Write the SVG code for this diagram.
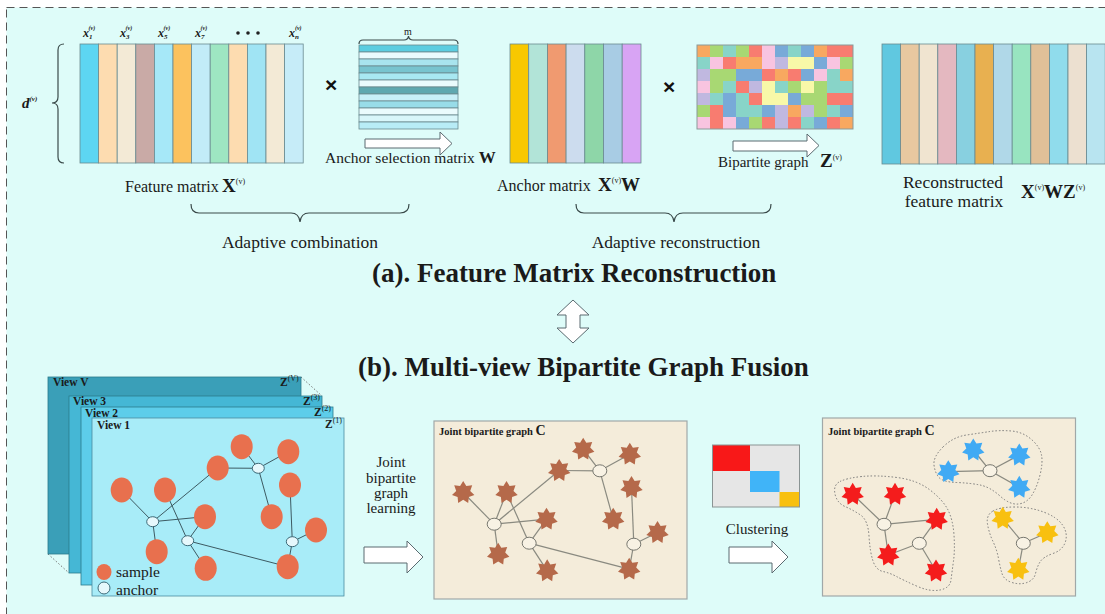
<svg xmlns="http://www.w3.org/2000/svg" width="1105" height="614" viewBox="0 0 1105 614">
<style>
.t{font-family:"Liberation Serif","Tinos","Times New Roman","DejaVu Serif",serif;fill:#1a1a1a}
.lbl{font-size:17.5px}
.bx{font-size:19px;font-weight:bold}
.sup{font-size:8px;font-weight:normal}
.title{font-size:27px;font-weight:bold}
.vt{font-size:11.5px;font-weight:bold}
.col{stroke:#6a8a90;stroke-width:0.8}
.brace{fill:none;stroke:#3a4a4a;stroke-width:1.2}
.harrow{fill:#fff;stroke:#5a6a70;stroke-width:1}
.edge{stroke:#3d5a62;stroke-width:1}
.gedge{stroke:#8a8a80;stroke-width:1.2}
.smp{fill:#e8704e}
.anc{fill:#e6f8fc;stroke:#3d6a78;stroke-width:1}
.ganc{fill:#f8f2e4;stroke:#77776f;stroke-width:1}
.o{fill:#f8a860}.g{fill:#a8d873}.tl{fill:#88d4c8}.r{fill:#f87c70}.p{fill:#f8c4e0}.b{fill:#78aad8}.l{fill:#c0b8e0}.y{fill:#f8f8a8}
.dot{fill:none;stroke:#777;stroke-width:1;stroke-dasharray:1.5 2}
.box{fill:#f4ecda;stroke:#a0a8a8;stroke-width:1.2}
.times{font-family:"Liberation Sans","Arial",sans-serif;font-size:21px;font-weight:bold;fill:#111}
</style>
<defs>
<path id="star" d="M0,-11.5 L3.1,-6.4 L9,-7.2 L7,-1.6 L11.2,2.6 L5.6,4.5 L5,10.4 L0,7.2 L-5,10.4 L-5.6,4.5 L-11.2,2.6 L-7,-1.6 L-9,-7.2 L-3.1,-6.4 Z"/>
</defs>
<rect x="0" y="0" width="1105" height="614" fill="#ffffff"/>
<rect x="6.5" y="7.5" width="1120" height="640" fill="#defcf9" stroke="#555" stroke-width="1" stroke-dasharray="8 5"/>

<g id="feature-matrix">
<path class="brace" d="M64,44 Q58,44 58,50 L58,97 Q58,103 52,103 Q58,103 58,109 L58,157 Q58,163 64,163"/>
<text class="t" x="22" y="108" font-size="15" font-weight="bold" font-style="italic">d<tspan font-size="7" dy="-7">(v)</tspan></text>
<rect class="col" x="80" y="44" width="18.6" height="119" fill="#5dd6f2"/>
<rect class="col" x="98.6" y="44" width="18.6" height="119" fill="#fddcb0"/>
<rect class="col" x="117.2" y="44" width="18.6" height="119" fill="#f3ead6"/>
<rect class="col" x="135.8" y="44" width="18.6" height="119" fill="#c9aaa6"/>
<rect class="col" x="154.4" y="44" width="18.6" height="119" fill="#a6e8f8"/>
<rect class="col" x="173" y="44" width="18.6" height="119" fill="#fcc25e"/>
<rect class="col" x="191.6" y="44" width="18.6" height="119" fill="#c2ecf8"/>
<rect class="col" x="210.2" y="44" width="18.6" height="119" fill="#9ee6c2"/>
<rect class="col" x="228.8" y="44" width="18.6" height="119" fill="#fddcb0"/>
<rect class="col" x="247.4" y="44" width="18.6" height="119" fill="#a0e4f4"/>
<rect class="col" x="266" y="44" width="18.6" height="119" fill="#f3ead6"/>
<rect class="col" x="284.6" y="44" width="18.6" height="119" fill="#c6ecf8"/>
<g class="t" font-size="12" font-weight="bold" font-style="italic">
<text x="83" y="37">x<tspan font-size="7" dy="2">1</tspan><tspan font-size="6" dx="-4" dy="-9">(v)</tspan></text>
<text x="120" y="37">x<tspan font-size="7" dy="2">3</tspan><tspan font-size="6" dx="-4" dy="-9">(v)</tspan></text>
<text x="158" y="37">x<tspan font-size="7" dy="2">5</tspan><tspan font-size="6" dx="-4" dy="-9">(v)</tspan></text>
<text x="195" y="37">x<tspan font-size="7" dy="2">7</tspan><tspan font-size="6" dx="-4" dy="-9">(v)</tspan></text>
<text x="289" y="37">x<tspan font-size="7" dy="2">n</tspan><tspan font-size="6" dx="-4" dy="-9">(v)</tspan></text>
</g>
<circle cx="238" cy="33" r="1.8" fill="#222"/>
<circle cx="248" cy="33" r="1.8" fill="#222"/>
<circle cx="258" cy="33" r="1.8" fill="#222"/>
<text class="t" x="125" y="192" font-size="16">Feature matrix</text>
<text class="t bx" x="222" y="192">X<tspan class="sup" dy="-8">(v)</tspan></text>
</g>

<text class="times" x="325" y="92">×</text>

<g id="anchor-selection-matrix">
<path class="brace" d="M359,44 Q359,40 363,40 L404,40 Q408,40 408.5,36 Q409,40 413,40 L454,40 Q458,40 458,44" stroke-width="1"/>
<text class="t" x="404" y="35" font-size="10">m</text>
<rect x="359" y="45" width="99" height="7" class="col" fill="#5bcde0"/>
<rect x="359" y="52" width="99" height="7" class="col" fill="#eafbfd"/>
<rect x="359" y="59" width="99" height="7" class="col" fill="#a8e4ee"/>
<rect x="359" y="66" width="99" height="7" class="col" fill="#78c4cf"/>
<rect x="359" y="73" width="99" height="7" class="col" fill="#a8e8f2"/>
<rect x="359" y="80" width="99" height="7" class="col" fill="#eafbfd"/>
<rect x="359" y="87" width="99" height="7" class="col" fill="#5fa8b0"/>
<rect x="359" y="94" width="99" height="7" class="col" fill="#c8f0f8"/>
<rect x="359" y="101" width="99" height="7" class="col" fill="#98dce8"/>
<rect x="359" y="108" width="99" height="7" class="col" fill="#eafbfd"/>
<rect x="359" y="115" width="99" height="7" class="col" fill="#d8f6fa"/>
<rect x="359" y="122" width="99" height="7" class="col" fill="#b8ecf6"/>
<polygon class="harrow" points="365,139 440,139 440,132 452,143.5 440,155 440,148 365,148"/>
<text class="t" x="325" y="163" font-size="15.5">Anchor selection matrix <tspan font-weight="bold" font-size="17">W</tspan></text>
</g>

<g id="anchor-matrix">
<rect class="col" x="510" y="44" width="18.7" height="119" fill="#f8c800"/>
<rect class="col" x="528.7" y="44" width="18.7" height="119" fill="#b2e4d8"/>
<rect class="col" x="547.4" y="44" width="18.7" height="119" fill="#f09a70"/>
<rect class="col" x="566.1" y="44" width="18.7" height="119" fill="#ccdcee"/>
<rect class="col" x="584.8" y="44" width="18.7" height="119" fill="#8ed6a8"/>
<rect class="col" x="603.5" y="44" width="18.7" height="119" fill="#a8cce4"/>
<rect class="col" x="622.2" y="44" width="18.8" height="119" fill="#d8a4f4"/>
<text class="t" x="497" y="191" font-size="16">Anchor matrix</text>
<text class="t bx" x="598" y="191">X<tspan class="sup" dy="-8">(v)</tspan><tspan dy="8">W</tspan></text>
</g>

<text class="times" x="663" y="94">×</text>

<g id="bipartite-graph-z">
<rect class="o" x="697" y="45" width="13" height="12"/><rect class="g" x="710" y="45" width="13" height="12"/><rect class="tl" x="723" y="45" width="13" height="12"/><rect class="g" x="736" y="45" width="13" height="12"/><rect class="r" x="749" y="45" width="13" height="12"/><rect class="p" x="762" y="45" width="13" height="12"/><rect class="b" x="775" y="45" width="13" height="12"/><rect class="tl" x="788" y="45" width="13" height="12"/><rect class="b" x="801" y="45" width="13" height="12"/><rect class="o" x="814" y="45" width="13" height="12"/><rect class="r" x="827" y="45" width="13" height="12"/><rect class="r" x="840" y="45" width="13" height="12"/>
<rect class="tl" x="697" y="57" width="13" height="12"/><rect class="p" x="710" y="57" width="13" height="12"/><rect class="r" x="723" y="57" width="13" height="12"/><rect class="o" x="736" y="57" width="13" height="12"/><rect class="o" x="749" y="57" width="13" height="12"/><rect class="p" x="762" y="57" width="13" height="12"/><rect class="l" x="775" y="57" width="13" height="12"/><rect class="y" x="788" y="57" width="13" height="12"/><rect class="y" x="801" y="57" width="13" height="12"/><rect class="b" x="814" y="57" width="13" height="12"/><rect class="p" x="827" y="57" width="13" height="12"/><rect class="g" x="840" y="57" width="13" height="12"/>
<rect class="l" x="697" y="69" width="13" height="12"/><rect class="g" x="710" y="69" width="13" height="12"/><rect class="g" x="723" y="69" width="13" height="12"/><rect class="b" x="736" y="69" width="13" height="12"/><rect class="b" x="749" y="69" width="13" height="12"/><rect class="r" x="762" y="69" width="13" height="12"/><rect class="o" x="775" y="69" width="13" height="12"/><rect class="r" x="788" y="69" width="13" height="12"/><rect class="b" x="801" y="69" width="13" height="12"/><rect class="p" x="814" y="69" width="13" height="12"/><rect class="tl" x="827" y="69" width="13" height="12"/><rect class="o" x="840" y="69" width="13" height="12"/>
<rect class="p" x="697" y="81" width="13" height="12"/><rect class="g" x="710" y="81" width="13" height="12"/><rect class="tl" x="723" y="81" width="13" height="12"/><rect class="r" x="736" y="81" width="13" height="12"/><rect class="l" x="749" y="81" width="13" height="12"/><rect class="y" x="762" y="81" width="13" height="12"/><rect class="tl" x="775" y="81" width="13" height="12"/><rect class="g" x="788" y="81" width="13" height="12"/><rect class="y" x="801" y="81" width="13" height="12"/><rect class="g" x="814" y="81" width="13" height="12"/><rect class="tl" x="827" y="81" width="13" height="12"/><rect class="tl" x="840" y="81" width="13" height="12"/>
<rect class="l" x="697" y="93" width="13" height="12"/><rect class="tl" x="710" y="93" width="13" height="12"/><rect class="b" x="723" y="93" width="13" height="12"/><rect class="tl" x="736" y="93" width="13" height="12"/><rect class="r" x="749" y="93" width="13" height="12"/><rect class="y" x="762" y="93" width="13" height="12"/><rect class="y" x="775" y="93" width="13" height="12"/><rect class="b" x="788" y="93" width="13" height="12"/><rect class="g" x="801" y="93" width="13" height="12"/><rect class="g" x="814" y="93" width="13" height="12"/><rect class="r" x="827" y="93" width="13" height="12"/><rect class="r" x="840" y="93" width="13" height="12"/>
<rect class="g" x="697" y="105" width="13" height="12"/><rect class="r" x="710" y="105" width="13" height="12"/><rect class="b" x="723" y="105" width="13" height="12"/><rect class="tl" x="736" y="105" width="13" height="12"/><rect class="tl" x="749" y="105" width="13" height="12"/><rect class="b" x="762" y="105" width="13" height="12"/><rect class="l" x="775" y="105" width="13" height="12"/><rect class="o" x="788" y="105" width="13" height="12"/><rect class="l" x="801" y="105" width="13" height="12"/><rect class="g" x="814" y="105" width="13" height="12"/><rect class="tl" x="827" y="105" width="13" height="12"/><rect class="b" x="840" y="105" width="13" height="12"/>
<rect class="p" x="697" y="117" width="13" height="12"/><rect class="r" x="710" y="117" width="13" height="12"/><rect class="p" x="723" y="117" width="13" height="12"/><rect class="b" x="736" y="117" width="13" height="12"/><rect class="g" x="749" y="117" width="13" height="12"/><rect class="r" x="762" y="117" width="13" height="12"/><rect class="l" x="775" y="117" width="13" height="12"/><rect class="r" x="788" y="117" width="13" height="12"/><rect class="tl" x="801" y="117" width="13" height="12"/><rect class="b" x="814" y="117" width="13" height="12"/><rect class="r" x="827" y="117" width="13" height="12"/><rect class="o" x="840" y="117" width="13" height="12"/>
<rect x="697" y="45" width="156" height="84" fill="none" stroke="#8a9a9a" stroke-width="1"/>
<polygon class="harrow" points="733,141 807,141 807,134 819,145.5 807,157 807,151 733,151"/>
<text class="t" x="718" y="167" font-size="15">Bipartite graph</text>
<text class="t bx" x="820" y="167" font-size="17">Z<tspan class="sup" dy="-7">(v)</tspan></text>
</g>

<g id="reconstructed-matrix">
<rect class="col" x="882" y="44" width="18.6" height="120" fill="#60c8e0"/>
<rect class="col" x="900.6" y="44" width="18.6" height="120" fill="#e8c8a0"/>
<rect class="col" x="919.2" y="44" width="18.6" height="120" fill="#f0e4d0"/>
<rect class="col" x="937.8" y="44" width="18.6" height="120" fill="#e4b8c0"/>
<rect class="col" x="956.4" y="44" width="18.6" height="120" fill="#88d0e0"/>
<rect class="col" x="975" y="44" width="18.6" height="120" fill="#e8b050"/>
<rect class="col" x="993.6" y="44" width="18.6" height="120" fill="#b0d8e8"/>
<rect class="col" x="1012.2" y="44" width="18.6" height="120" fill="#98e4c0"/>
<rect class="col" x="1030.8" y="44" width="18.6" height="120" fill="#e0c098"/>
<rect class="col" x="1049.4" y="44" width="18.6" height="120" fill="#90dcec"/>
<rect class="col" x="1068" y="44" width="18.6" height="120" fill="#ece0d0"/>
<rect class="col" x="1086.6" y="44" width="18.6" height="120" fill="#b8e4f0"/>
<text class="t lbl" x="953" y="188" text-anchor="middle">Reconstructed</text>
<text class="t lbl" x="954" y="207" text-anchor="middle">feature matrix</text>
<text class="t bx" x="1021" y="198" font-size="20">X<tspan class="sup" dy="-8">(v)</tspan><tspan dy="8">WZ</tspan><tspan class="sup" dy="-8">(v)</tspan></text>
</g>

<g id="adaptive-combination">
<path class="brace" d="M191,204 Q191,213 199,213 L291,213 Q299,213 300,222 Q301,213 309,213 L400,213 Q409,213 409,204"/>
<text class="t lbl" x="300" y="248" text-anchor="middle">Adaptive combination</text>
</g>
<g id="adaptive-reconstruction">
<path class="brace" d="M576,204 Q576,213 584,213 L665,213 Q673,213 674,222 Q675,213 683,213 L763,213 Q771,213 771,204"/>
<text class="t lbl" x="676" y="248" text-anchor="middle">Adaptive reconstruction</text>
</g>

<text class="t title" x="372" y="282">(a). Feature Matrix Reconstruction</text>
<polygon class="harrow" points="573,300 589,315 580,315 580,328 589,328 573,343 557,328 566,328 566,315 557,315"/>
<text class="t title" x="358" y="376">(b). Multi-view Bipartite Graph Fusion</text>

<g id="views">
<line class="dot" x1="301" y1="377" x2="322" y2="396"/>
<line class="dot" x1="48" y1="554" x2="69" y2="573"/>
<rect x="48" y="377" width="253" height="177" fill="#3a9fb8" stroke="#2c7a8c" stroke-width="0.8"/>
<text class="t vt" x="53" y="386">View V</text>
<text class="t vt" x="280" y="386" font-size="11">Z<tspan class="sup" font-size="6" dy="-5">(V)</tspan></text>
<rect x="69" y="396" width="253" height="177" fill="#45b7d5" stroke="#2c7a8c" stroke-width="0.8"/>
<text class="t vt" x="73" y="404.5">View 3</text>
<text class="t vt" x="303" y="405" font-size="11">Z<tspan class="sup" font-size="6" dy="-5">(3)</tspan></text>
<rect x="81" y="407" width="252" height="178" fill="#5dcdea" stroke="#2c7a8c" stroke-width="0.8"/>
<text class="t vt" x="85" y="416.5">View 2</text>
<text class="t vt" x="314" y="416" font-size="11">Z<tspan class="sup" font-size="6" dy="-5">(2)</tspan></text>
<rect x="92" y="418" width="252" height="178" fill="#a8ecf8" stroke="#4a8ca0" stroke-width="0.8"/>
<text class="t vt" x="97" y="428.5">View 1</text>
<text class="t vt" x="325" y="428" font-size="11">Z<tspan class="sup" font-size="6" dy="-5">(1)</tspan></text>
<g class="edge">
<line x1="152.7" y1="521.7" x2="121.7" y2="490"/>
<line x1="152.7" y1="521.7" x2="217.7" y2="468"/>
<line x1="152.7" y1="521.7" x2="205" y2="516.7"/>
<line x1="152.7" y1="521.7" x2="156.7" y2="551.7"/>
<line x1="187.7" y1="540.7" x2="165" y2="490"/>
<line x1="187.7" y1="540.7" x2="205" y2="516.7"/>
<line x1="187.7" y1="540.7" x2="205.7" y2="568.3"/>
<line x1="187.7" y1="540.7" x2="287.7" y2="566.7"/>
<line x1="258.3" y1="468.3" x2="217.7" y2="468"/>
<line x1="258.3" y1="468.3" x2="241.7" y2="446.7"/>
<line x1="258.3" y1="468.3" x2="288.3" y2="451.7"/>
<line x1="258.3" y1="468.3" x2="271.7" y2="516.7"/>
<line x1="292.3" y1="541.7" x2="290" y2="485"/>
<line x1="292.3" y1="541.7" x2="316" y2="530"/>
<line x1="292.3" y1="541.7" x2="287.7" y2="566.7"/>
</g>
<g class="smp">
<ellipse cx="121.7" cy="490" rx="11" ry="12.5"/>
<ellipse cx="165" cy="490" rx="11" ry="12.5"/>
<ellipse cx="217.7" cy="468" rx="11" ry="12.5"/>
<ellipse cx="241.7" cy="446.7" rx="11" ry="12.5"/>
<ellipse cx="288.3" cy="451.7" rx="11" ry="12.5"/>
<ellipse cx="290" cy="485" rx="11" ry="12.5"/>
<ellipse cx="205" cy="516.7" rx="11" ry="12.5"/>
<ellipse cx="271.7" cy="516.7" rx="11" ry="12.5"/>
<ellipse cx="316" cy="530" rx="11" ry="12.5"/>
<ellipse cx="156.7" cy="551.7" rx="11" ry="12.5"/>
<ellipse cx="205.7" cy="568.3" rx="11" ry="12.5"/>
<ellipse cx="287.7" cy="566.7" rx="11" ry="12.5"/>
</g>
<g class="anc">
<ellipse cx="258.3" cy="468.3" rx="6" ry="5"/>
<ellipse cx="152.7" cy="521.7" rx="6" ry="5"/>
<ellipse cx="187.7" cy="540.7" rx="6" ry="5"/>
<ellipse cx="292.3" cy="541.7" rx="6" ry="5"/>
</g>
<ellipse class="smp" cx="104" cy="572" rx="7.5" ry="8"/>
<text class="t" x="116" y="577" font-size="15.5">sample</text>
<circle class="anc" cx="104" cy="588" r="6"/>
<text class="t" x="116" y="594.5" font-size="15.5">anchor</text>
</g>

<g id="joint-learning">
<g class="t" font-size="15" text-anchor="middle">
<text x="391" y="467">Joint</text>
<text x="391" y="483">bipartite</text>
<text x="391" y="498">graph</text>
<text x="391" y="513">learning</text>
</g>
<polygon class="harrow" points="364,547 407,547 407,541 423,557 407,573 407,563 364,563"/>
</g>

<g id="joint-graph">
<rect class="box" x="434" y="421" width="253" height="178"/>
<text class="t" x="439" y="435" font-size="10.5" font-weight="bold">Joint bipartite graph <tspan font-size="14">C</tspan></text>
<g transform="translate(341.5,2.5)">
<g class="gedge">
<line x1="152.7" y1="521.7" x2="121.7" y2="490"/>
<line x1="152.7" y1="521.7" x2="165" y2="490"/>
<line x1="152.7" y1="521.7" x2="217.7" y2="468"/>
<line x1="152.7" y1="521.7" x2="205" y2="516.7"/>
<line x1="152.7" y1="521.7" x2="156.7" y2="551.7"/>
<line x1="187.7" y1="540.7" x2="165" y2="490"/>
<line x1="187.7" y1="540.7" x2="205" y2="516.7"/>
<line x1="187.7" y1="540.7" x2="205.7" y2="568.3"/>
<line x1="187.7" y1="540.7" x2="287.7" y2="566.7"/>
<line x1="258.3" y1="468.3" x2="217.7" y2="468"/>
<line x1="258.3" y1="468.3" x2="241.7" y2="446.7"/>
<line x1="258.3" y1="468.3" x2="288.3" y2="451.7"/>
<line x1="258.3" y1="468.3" x2="271.7" y2="516.7"/>
<line x1="292.3" y1="541.7" x2="290" y2="485"/>
<line x1="292.3" y1="541.7" x2="316" y2="530"/>
<line x1="292.3" y1="541.7" x2="287.7" y2="566.7"/>
</g>
<g fill="#b5694a">
<use href="#star" x="121.7" y="490"/>
<use href="#star" x="165" y="490"/>
<use href="#star" x="217.7" y="468"/>
<use href="#star" x="241.7" y="446.7"/>
<use href="#star" x="288.3" y="451.7"/>
<use href="#star" x="290" y="485"/>
<use href="#star" x="205" y="516.7"/>
<use href="#star" x="271.7" y="516.7"/>
<use href="#star" x="316" y="530"/>
<use href="#star" x="156.7" y="551.7"/>
<use href="#star" x="205.7" y="568.3"/>
<use href="#star" x="287.7" y="566.7"/>
</g>
<g class="ganc">
<ellipse cx="258.3" cy="468.3" rx="7" ry="6"/>
<ellipse cx="152.7" cy="521.7" rx="7" ry="6"/>
<ellipse cx="187.7" cy="540.7" rx="7" ry="6"/>
<ellipse cx="292.3" cy="541.7" rx="7" ry="6"/>
</g>
</g>
</g>

<g id="clustering">
<rect x="712.5" y="445" width="87" height="62" fill="#e6e6e6"/>
<rect x="712.5" y="445" width="37.5" height="26" fill="#f81818"/>
<rect x="750" y="471" width="29.5" height="21" fill="#40b4f8"/>
<rect x="779.5" y="492" width="20" height="15" fill="#f8c010"/>
<rect x="712.5" y="445" width="87" height="62" fill="none" stroke="#8a9494" stroke-width="1"/>
<text class="t" x="757" y="534" font-size="15" text-anchor="middle">Clustering</text>
<polygon class="harrow" points="729,547 772,547 772,541 788,557 772,573 772,563 729,563"/>
</g>

<g id="clustered-graph">
<rect class="box" x="822.5" y="418" width="253" height="178"/>
<text class="t" x="828" y="435" font-size="10.5" font-weight="bold">Joint bipartite graph <tspan font-size="14">C</tspan></text>
<g class="dot">
<path d="M943,447 Q953,437 966.5,435 Q980,433 990,431.5 Q1000,430 1011.5,431 Q1023,432 1031.5,439.5 Q1040,447 1041.5,455 Q1043,463 1040,475 Q1037,487 1032,495 Q1027,503 1018.5,504 Q1010,505 1000,496 Q990,487 980,485 Q970,483 956.5,482.5 Q943,482 939,477.5 Q935,473 934,465 Q933,457 943,447 Z"/>
<path d="M840,481.5 Q847,478 862,476.5 Q877,475 897,477.5 Q917,480 930,490 Q943,500 948,510 Q953,520 954,535 Q955,550 953.5,561 Q952,572 951,580 Q950,588 940,590 Q930,592 916.5,586 Q903,580 896.5,576.5 Q890,573 883,571.5 Q876,570 873,561 Q870,552 869,536 Q868,520 860.5,515 Q853,510 845,506.5 Q837,503 835,494 Q833,485 840,481.5 Z"/>
<path d="M993,511 Q1000,507 1015,507 Q1030,507 1043.5,512 Q1057,517 1062.5,525 Q1068,533 1065.5,541.5 Q1063,550 1053,553.5 Q1043,557 1040,562 Q1037,567 1035.5,573.5 Q1034,580 1027,582.5 Q1020,585 1012,582.5 Q1004,580 1002,573.5 Q1000,567 998.5,558.5 Q997,550 993,541.5 Q989,533 987.5,524 Q986,515 993,511 Z"/>
</g>
<g class="gedge">
<line x1="990" y1="470.7" x2="973.3" y2="450"/>
<line x1="990" y1="470.7" x2="1019.3" y2="455"/>
<line x1="990" y1="470.7" x2="948.3" y2="471.7"/>
<line x1="990" y1="470.7" x2="1019.3" y2="487.3"/>
<line x1="884" y1="524.3" x2="852.7" y2="494.3"/>
<line x1="884" y1="524.3" x2="895" y2="494.3"/>
<line x1="884" y1="524.3" x2="936.7" y2="519.3"/>
<line x1="884" y1="524.3" x2="888.3" y2="555"/>
<line x1="919.3" y1="543.3" x2="888.3" y2="555"/>
<line x1="919.3" y1="543.3" x2="936.7" y2="519.3"/>
<line x1="919.3" y1="543.3" x2="936" y2="571"/>
<line x1="1023.3" y1="543.3" x2="1002.7" y2="518.3"/>
<line x1="1023.3" y1="543.3" x2="1047.3" y2="532.7"/>
<line x1="1023.3" y1="543.3" x2="1018.3" y2="569.3"/>
</g>
<g fill="#40aaf4">
<use href="#star" x="973.3" y="450"/>
<use href="#star" x="1019.3" y="455"/>
<use href="#star" x="948.3" y="471.7"/>
<use href="#star" x="1019.3" y="487.3"/>
</g>
<g fill="#f41c1c">
<use href="#star" x="852.7" y="494.3"/>
<use href="#star" x="895" y="494.3"/>
<use href="#star" x="936.7" y="519.3"/>
<use href="#star" x="888.3" y="555"/>
<use href="#star" x="936" y="571"/>
</g>
<g fill="#f8c010">
<use href="#star" x="1002.7" y="518.3"/>
<use href="#star" x="1047.3" y="532.7"/>
<use href="#star" x="1018.3" y="569.3"/>
</g>
<g class="ganc">
<ellipse cx="990" cy="470.7" rx="7" ry="6"/>
<ellipse cx="884" cy="524.3" rx="7" ry="6"/>
<ellipse cx="919.3" cy="543.3" rx="7" ry="6"/>
<ellipse cx="1023.3" cy="543.3" rx="7" ry="6"/>
</g>
</g>
</svg>
